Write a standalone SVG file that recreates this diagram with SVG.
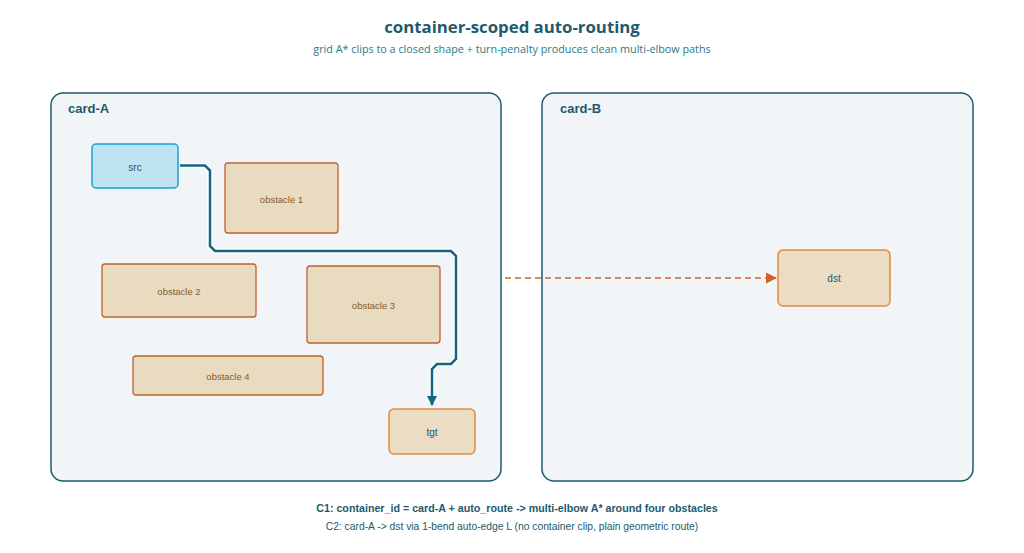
<svg xmlns="http://www.w3.org/2000/svg" width="1024" height="553" viewBox="0 0 1024 553">
<defs>
<style>
.title{font-family:"Open Sans","Noto Sans",sans-serif;font-weight:700;font-size:16.8px;fill:#1d5a6b;text-anchor:middle}
.sub{font-family:"Open Sans","Noto Sans",sans-serif;font-size:10.8px;fill:#2a7a86;text-anchor:middle}
.card{fill:#f1f5f8;stroke:#1d5a6b;stroke-width:1.5}
.cardlbl{font-family:"Liberation Sans",Arial,sans-serif;font-weight:700;font-size:13px;fill:#1d5a6b}
.obs{fill:#e8dbc0;stroke:#c0622a;stroke-width:1.3}
.obstxt{font-family:"Liberation Sans",Arial,sans-serif;font-size:9.5px;fill:#8a5a2a;text-anchor:middle}
.src{fill:#bfe3f0;stroke:#1aa0d0;stroke-width:1.5}
.end{fill:#ecdcc4;stroke:#e08a3c;stroke-width:1.5}
.ntxt{font-family:"Liberation Sans",Arial,sans-serif;font-size:10px;fill:#1d5a6b;text-anchor:middle}
.foot1{font-family:"Liberation Sans",Arial,sans-serif;font-weight:700;font-size:10.7px;fill:#1d5a6b;text-anchor:middle}
.foot2{font-family:"Liberation Sans",Arial,sans-serif;font-size:10.3px;fill:#1d5a6b;text-anchor:middle}
</style>
<marker id="arrB" viewBox="0 0 10 10" refX="9" refY="5" markerWidth="4.2" markerHeight="4.2" orient="auto" markerUnits="strokeWidth"><path d="M0,0L10,5L0,10z" fill="#136580"/></marker>
<marker id="arrO" viewBox="0 0 10 10" refX="9" refY="5" markerWidth="7" markerHeight="7" orient="auto" markerUnits="strokeWidth"><path d="M0,0L10,5L0,10z" fill="#d2622a"/></marker>
</defs>
<rect width="1024" height="553" fill="#ffffff"/>
<text class="title" x="512" y="33">container-scoped auto-routing</text>
<text class="sub" x="512" y="53">grid A* clips to a closed shape + turn-penalty produces clean multi-elbow paths</text>
<g id="card-A"><rect class="card" x="51" y="93" width="450" height="388" rx="12"/><text class="cardlbl" x="68" y="113">card-A</text></g>
<g id="card-B"><rect class="card" x="542" y="93" width="431" height="388" rx="12"/><text class="cardlbl" x="560" y="113">card-B</text></g>
<g id="src"><rect class="src" x="92" y="144" width="86" height="44" rx="4"/><text class="ntxt" x="135" y="171">src</text></g>
<g id="obstacle1"><rect class="obs" x="225" y="163" width="113" height="70" rx="3"/><text class="obstxt" x="281.5" y="203">obstacle 1</text></g>
<g id="obstacle2"><rect class="obs" x="102" y="264" width="154" height="53" rx="3"/><text class="obstxt" x="179" y="295">obstacle 2</text></g>
<g id="obstacle3"><rect class="obs" x="307" y="266" width="133" height="77" rx="3"/><text class="obstxt" x="373.5" y="309">obstacle 3</text></g>
<g id="obstacle4"><rect class="obs" x="133" y="356" width="190" height="39" rx="3"/><text class="obstxt" x="228" y="380">obstacle 4</text></g>
<g id="tgt"><rect class="end" x="389" y="409" width="86" height="45" rx="5"/><text class="ntxt" x="432" y="436">tgt</text></g>
<g id="dst"><rect class="end" x="778" y="250" width="112" height="56" rx="5"/><text class="ntxt" x="834" y="282">dst</text></g>
<g id="connectors" fill="none">
<path d="M180,165.5H205L210,170.5V246L215,251H451L456,256V359L451,364H437L432,369V404" stroke="#ffffff" stroke-width="5.5"/>
<path d="M180,165.5H205L210,170.5V246L215,251H451L456,256V359L451,364H437L432,369V405" stroke="#136580" stroke-width="2.5" marker-end="url(#arrB)"/>
<path d="M505,278H776" stroke="#d2622a" stroke-width="1.6" stroke-dasharray="6,4" marker-end="url(#arrO)"/>
</g>
<text class="foot1" x="517" y="512">C1: container_id = card-A + auto_route -&gt; multi-elbow A* around four obstacles</text>
<text class="foot2" x="512" y="530">C2: card-A -&gt; dst via 1-bend auto-edge L (no container clip, plain geometric route)</text>
</svg>
